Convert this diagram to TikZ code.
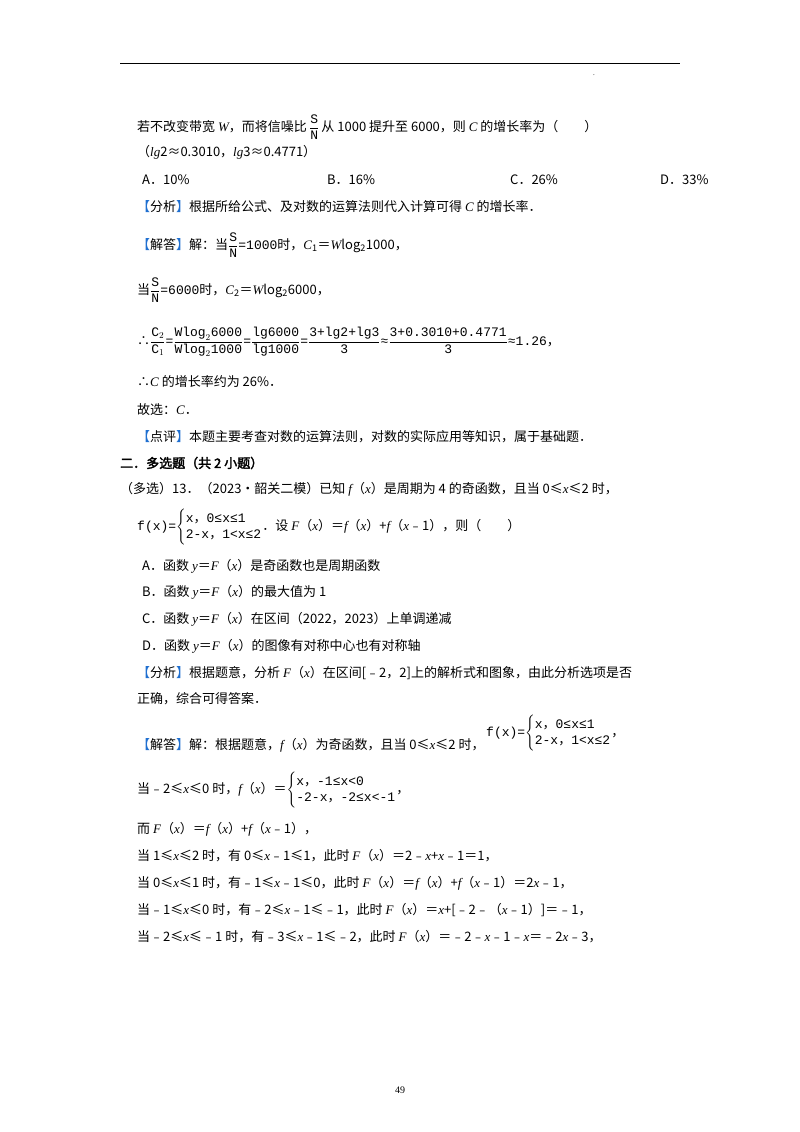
\documentclass[tikz,border=0pt]{standalone}
\usepackage{amsmath}
\usepackage{fontspec}
\setmainfont{Liberation Serif}
\newfontfamily\cjk[AutoFakeBold=2.5]{Noto Sans CJK SC}
\newfontfamily\mono{Liberation Mono}
\newfontfamily\lser{Liberation Serif}
\definecolor{tagblue}{HTML}{1F6FD0}
\newcommand{\tg}[1]{{\color{tagblue}【}{\cjk #1}{\color{tagblue}】}}
\newcommand{\vi}[1]{{\lser\itshape #1}}
\newcommand{\cm}{{\cjk ，}}
\tikzset{ln/.style={anchor=west,inner sep=0pt,font=\fontsize{13}{16}\selectfont\cjk},
 mt/.style={anchor=west,inner sep=0pt,font=\fontsize{12}{14}\selectfont\mono}}
\begin{document}
\begin{tikzpicture}[x=1pt,y=-1pt]
\useasboundingbox (0,0) rectangle (800,1132);
\draw[line width=1pt] (120,64) -- (680,64);
\node[anchor=center,font=\fontsize{7}{8}\selectfont] (dot) at (594,75) {.};
% problem
\node[ln] (l1) at (137,127) {若不改变带宽 \vi{W}，而将信噪比\,{\mono$\genfrac{}{}{0.5pt}{0}{\text{S}}{\text{N}}$}\,从 1000 提升至 6000，则 \vi{C} 的增长率为（\qquad ）};
\node[ln] (l2) at (137,152) {（\vi{lg}2≈0.3010，\vi{lg}3≈0.4771）};
\node[ln] (oa) at (142,180) {A．10\%};
\node[ln] (ob) at (327,180) {B．16\%};
\node[ln] (oc) at (510,180) {C．26\%};
\node[ln] (od) at (660,180) {D．33\%};
\node[ln] (fx1) at (137,207) {\tg{分析}根据所给公式、及对数的运算法则代入计算可得 \vi{C} 的增长率．};
\node[ln] (jd1) at (137,245) {\tg{解答}解：当{\mono$\dfrac{\text{S}}{\text{N}}$=1000}时，\vi{C}\textsubscript{1}＝\vi{W}log\textsubscript{2}1000，};
\node[ln] (jd2) at (137,290) {当{\mono$\dfrac{\text{S}}{\text{N}}$=6000}时，\vi{C}\textsubscript{2}＝\vi{W}log\textsubscript{2}6000，};
\node[ln] (jd3) at (137,342) {∴{\mono$\dfrac{\text{C}_2}{\text{C}_1}$=$\dfrac{\text{Wlog}_2\text{6000}}{\text{Wlog}_2\text{1000}}$=$\dfrac{\text{lg6000}}{\text{lg1000}}$=$\dfrac{\text{3+lg2+lg3}}{\text{3}}$≈$\dfrac{\text{3+0.3010+0.4771}}{\text{3}}$≈1.26}，};
\node[ln] (jd4) at (137,382) {∴\vi{C} 的增长率约为 26\%．};
\node[ln] (jd5) at (137,410) {故选：\vi{C}．};
\node[ln] (dp) at (137,437) {\tg{点评}本题主要考查对数的运算法则，对数的实际应用等知识，属于基础题．};
\node[ln,font=\fontsize{13}{16}\selectfont\cjk\bfseries] (sec) at (120,463) {二．多选题（共 2 小题）};
\node[ln] (p13) at (120,489) {（多选）13．（2023•韶关二模）已知 \vi{f}（\vi{x}）是周期为 4 的奇函数，且当 0≤\vi{x}≤2 时，};
\node[ln] (p13b) at (137,527) {{\mono f(x)=$\left\{\begin{array}{@{}l@{}}\text{x\cm 0≤x≤1}\\ \text{2-x\cm 1<x≤2}\end{array}\right.$}．设 \vi{F}（\vi{x}）＝\vi{f}（\vi{x}）+\vi{f}（\vi{x}﹣1），则（\qquad ）};
\node[ln] (qa) at (142,566) {A．函数 \vi{y}＝\vi{F}（\vi{x}）是奇函数也是周期函数};
\node[ln] (qb) at (142,592) {B．函数 \vi{y}＝\vi{F}（\vi{x}）的最大值为 1};
\node[ln] (qc) at (142,619) {C．函数 \vi{y}＝\vi{F}（\vi{x}）在区间（2022，2023）上单调递减};
\node[ln] (qd) at (142,646) {D．函数 \vi{y}＝\vi{F}（\vi{x}）的图像有对称中心也有对称轴};
\node[ln] (fx2) at (137,673) {\tg{分析}根据题意，分析 \vi{F}（\vi{x}）在区间[﹣2，2]上的解析式和图象，由此分析选项是否};
\node[ln] (fx2b) at (137,699) {正确，综合可得答案．};
\node[ln] (jd6) at (137,745) {\tg{解答}解：根据题意，\vi{f}（\vi{x}）为奇函数，且当 0≤\vi{x}≤2 时，};
\node[ln] (pw1) at (486,733) {{\mono f(x)=$\left\{\begin{array}{@{}l@{}}\text{x\cm 0≤x≤1}\\ \text{2-x\cm 1<x≤2}\end{array}\right.$}，};
\node[ln] (jd7) at (137,790) {当﹣2≤\vi{x}≤0 时，\vi{f}（\vi{x}）＝{\mono$\left\{\begin{array}{@{}l@{}}\text{x\cm -1≤x<0}\\ \text{-2-x\cm -2≤x<-1}\end{array}\right.$}，};
\node[ln] (jd8) at (137,829) {而 \vi{F}（\vi{x}）＝\vi{f}（\vi{x}）+\vi{f}（\vi{x}﹣1），};
\node[ln] (jd9) at (137,856) {当 1≤\vi{x}≤2 时，有 0≤\vi{x}﹣1≤1，此时 \vi{F}（\vi{x}）＝2﹣\vi{x}+\vi{x}﹣1＝1，};
\node[ln] (jd10) at (137,883) {当 0≤\vi{x}≤1 时，有﹣1≤\vi{x}﹣1≤0，此时 \vi{F}（\vi{x}）＝\vi{f}（\vi{x}）+\vi{f}（\vi{x}﹣1）＝2\vi{x}﹣1，};
\node[ln] (jd11) at (137,910) {当﹣1≤\vi{x}≤0 时，有﹣2≤\vi{x}﹣1≤﹣1，此时 \vi{F}（\vi{x}）＝\vi{x}+[﹣2﹣（\vi{x}﹣1）]＝﹣1，};
\node[ln] (jd12) at (137,937) {当﹣2≤\vi{x}≤﹣1 时，有﹣3≤\vi{x}﹣1≤﹣2，此时 \vi{F}（\vi{x}）＝﹣2﹣\vi{x}﹣1﹣\vi{x}＝﹣2\vi{x}﹣3，};
\node[anchor=center,font=\fontsize{10}{11}\selectfont] (pg) at (400,1090) {49};
\end{tikzpicture}
\end{document}
